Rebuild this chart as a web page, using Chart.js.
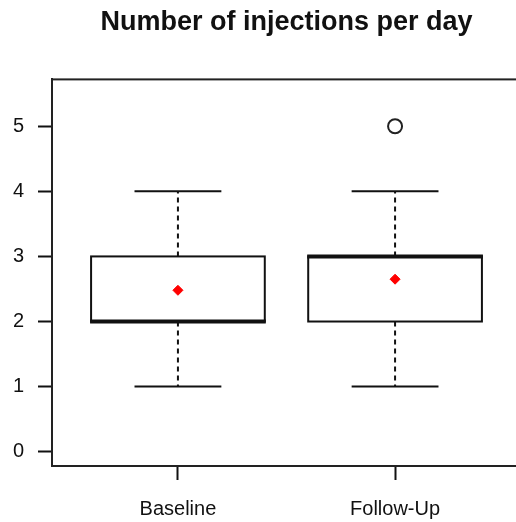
<!DOCTYPE html>
<html>
<head>
<meta charset="utf-8">
<script src="https://cdn.jsdelivr.net/npm/chart.js@4.4.1/dist/chart.umd.min.js"></script>
<style>
  html, body { margin: 0; padding: 0; background: #fff; overflow: hidden; }
  #wrap { width: 540px; height: 522px; }
</style>
</head>
<body>
<div id="wrap"><canvas id="myChart"></canvas></div>
<script>
// box plot data
const groups = ['Baseline', 'Follow-Up'];
const groupPos = [1, 2];
const whiskerLow = [1, 1];
const q1 = [2, 2];
const medians = [2, 3];
const q3 = [3, 3];
const whiskerHigh = [4, 4];
const means = [2.48, 2.65];
const outliers = [[], [5]];
const yTicks = [0, 1, 2, 3, 4, 5];

const BOX_HALF = 0.4;   // box width 0.8 like R
const CAP_HALF = 0.2;   // staple half the box width
const ink = '#111';

const boxPlugin = {
    id: 'boxes',
    beforeDatasetsDraw(chart) {
        const { ctx, scales: { x, y }, chartArea } = chart;
        ctx.save();
        groupPos.forEach((pos, i) => {
            const cx = x.getPixelForValue(pos);
            const left = x.getPixelForValue(pos - BOX_HALF);
            const right = x.getPixelForValue(pos + BOX_HALF);
            const capL = x.getPixelForValue(pos - CAP_HALF);
            const capR = x.getPixelForValue(pos + CAP_HALF);
            const yQ1 = y.getPixelForValue(q1[i]);
            const yQ3 = y.getPixelForValue(q3[i]);
            const yLo = y.getPixelForValue(whiskerLow[i]);
            const yHi = y.getPixelForValue(whiskerHigh[i]);
            const yMed = y.getPixelForValue(medians[i]);

            ctx.strokeStyle = ink;
            // dashed whiskers
            ctx.lineWidth = 2;
            ctx.setLineDash([5, 4]);
            ctx.beginPath();
            ctx.moveTo(cx, yQ3); ctx.lineTo(cx, yHi);
            ctx.moveTo(cx, yQ1); ctx.lineTo(cx, yLo);
            ctx.stroke();
            ctx.setLineDash([]);
            // staples
            ctx.beginPath();
            ctx.moveTo(capL, yHi); ctx.lineTo(capR, yHi);
            ctx.moveTo(capL, yLo); ctx.lineTo(capR, yLo);
            ctx.stroke();
            // box
            ctx.fillStyle = '#fff';
            ctx.fillRect(left, yQ3, right - left, yQ1 - yQ3);
            ctx.strokeRect(left, yQ3, right - left, yQ1 - yQ3);
            // median
            ctx.lineWidth = 4;
            ctx.beginPath();
            ctx.moveTo(left - 1, yMed); ctx.lineTo(right + 1, yMed);
            ctx.stroke();
        });
        // frame round the plot (box())
        ctx.lineWidth = 2;
        ctx.strokeStyle = '#222';
        ctx.strokeRect(chartArea.left, chartArea.top, chartArea.right - chartArea.left, chartArea.bottom - chartArea.top);
        ctx.restore();
    }
};

const outlierPoints = [];
outliers.forEach((list, i) => list.forEach(v => outlierPoints.push({ x: groupPos[i], y: v })));

new Chart(document.getElementById('myChart'), {
    type: 'scatter',
    data: {
        datasets: [
            {
                label: 'mean',
                data: groupPos.map((p, i) => ({ x: p, y: means[i] })),
                pointStyle: 'rectRot',
                pointRadius: 5,
                backgroundColor: '#ff0000',
                borderColor: '#ff0000',
                borderWidth: 1
            },
            {
                label: 'outliers',
                data: outlierPoints,
                pointStyle: 'circle',
                pointRadius: 7,
                backgroundColor: 'rgba(0,0,0,0)',
                borderColor: '#222',
                borderWidth: 2
            }
        ]
    },
    options: {
        responsive: true,
        maintainAspectRatio: false,
        animation: false,
        layout: { padding: { left: 0, right: 19, top: 0, bottom: 0 } },
        scales: {
            x: {
                type: 'linear',
                position: 'bottom',
                min: 0.42,
                max: 2.58,
                afterBuildTicks: (scale) => { scale.ticks = groupPos.map(v => ({ value: v })); },
                afterFit: (scale) => { scale.height = 56; },
                ticks: {
                    callback: (value) => groups[groupPos.indexOf(value)] || '',
                    color: '#111',
                    padding: 17,
                    maxRotation: 0,
                    font: { family: 'Liberation Sans', size: 20 }
                },
                grid: { drawOnChartArea: false, drawTicks: true, tickLength: 14, tickWidth: 2, tickColor: ink },
                border: { display: true, color: '#222', width: 2 }
            },
            y: {
                type: 'linear',
                min: -0.22,
                max: 5.72,
                afterBuildTicks: (scale) => { scale.ticks = yTicks.map(v => ({ value: v })); },
                afterFit: (scale) => { scale.width = 52; },
                ticks: {
                    color: '#111',
                    padding: 14,
                    font: { family: 'Liberation Sans', size: 20 }
                },
                grid: { drawOnChartArea: false, drawTicks: true, tickLength: 14, tickWidth: 2, tickColor: ink },
                border: { display: true, color: '#222', width: 2 }
            }
        },
        plugins: {
            legend: { display: false },
            tooltip: { enabled: false },
            title: {
                display: true,
                fullSize: false,
                text: 'Number of injections per day',
                color: '#111',
                font: { family: 'Liberation Sans', size: 27, weight: 'bold' },
                padding: { top: 6, bottom: 41 }
            }
        }
    },
    plugins: [boxPlugin]
});
</script>
</body>
</html>
